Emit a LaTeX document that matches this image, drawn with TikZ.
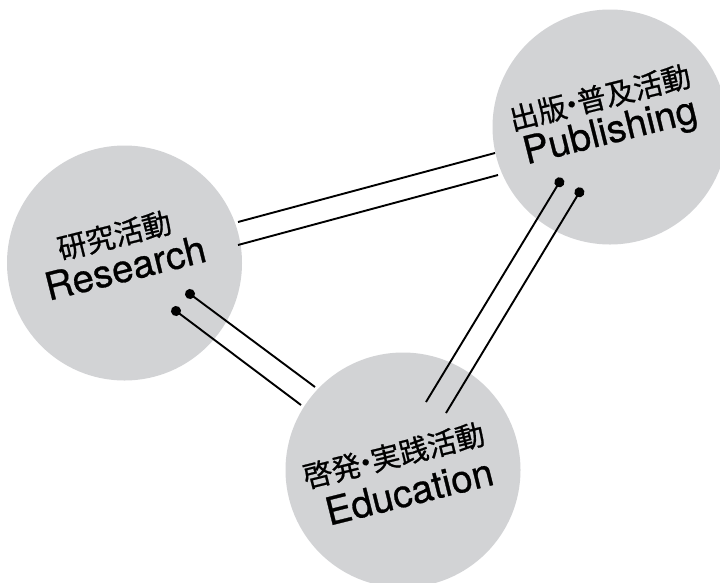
\documentclass[tikz,border=0pt]{standalone}
\usepackage{fontspec}
\setmainfont{TeX Gyre Heros}[FakeBold=0.7]
\newfontfamily\jpfont{Noto Sans CJK JP}[FakeBold=0.7]
\newcommand\jpdot{\kern-0.3em・\kern-0.3em}
\usepackage{tikz}
\usetikzlibrary{arrows.meta}
\definecolor{discgray}{RGB}{210,211,213}

\begin{document}
\begin{tikzpicture}[x=1pt, y=-1pt, >={Circle[length=10pt]},
    disc/.style={circle, fill=discgray, minimum size=235pt, inner sep=0pt},
    jplabel/.style={rotate=14, anchor=base, inner sep=0pt, font=\jpfont\fontsize{29}{30}\selectfont},
    enlabel/.style={rotate=14, anchor=base, inner sep=0pt, font=\fontsize{38.5}{39}\selectfont},
    link/.style={line width=1.9pt, black}]
    \clip (0,0) rectangle (720,582);

    % the three activity discs
    \node[disc] (R) at (124.5,263) {};
    \node[disc] (P) at (610,127)   {};
    \node[disc] (E) at (403,470)   {};

    % labels, turned a little
    \node[jplabel] (Rj) at (117,246)   {研究活動};
    \node[enlabel] (Re) at (128.5,281) {Research};
    \node[jplabel] (Pj) at (602.5,108) {出版\jpdot 普及活動};
    \node[enlabel] (Pe) at (613,143)   {Publishing};
    \node[jplabel] (Ej) at (396.5,466) {啓発\jpdot 実践活動};
    \node[enlabel] (Ee) at (412.5,505) {Education};

    % ends of the double links
    \coordinate (RP1) at (238,222);
    \coordinate (RP2) at (238,245);
    \coordinate (PR1) at (495,153);
    \coordinate (PR2) at (498,175);
    \coordinate (RE1) at (186,291);
    \coordinate (RE2) at (172,308);
    \coordinate (ER1) at (315,387);
    \coordinate (ER2) at (301,405);
    \coordinate (PE1) at (562,178);
    \coordinate (PE2) at (582,188);
    \coordinate (EP1) at (426,402);
    \coordinate (EP2) at (446,413);

    % Research -- Publishing
    \draw[link] (RP1) -- (PR1);
    \draw[link] (RP2) -- (PR2);

    % Research -- Education, dot on the research side
    \draw[link, <-] (RE1) -- (ER1);
    \draw[link, <-] (RE2) -- (ER2);

    % Publishing -- Education, dot on the publishing side
    \draw[link, <-] (PE1) -- (EP1);
    \draw[link, <-] (PE2) -- (EP2);
\end{tikzpicture}
\end{document}
